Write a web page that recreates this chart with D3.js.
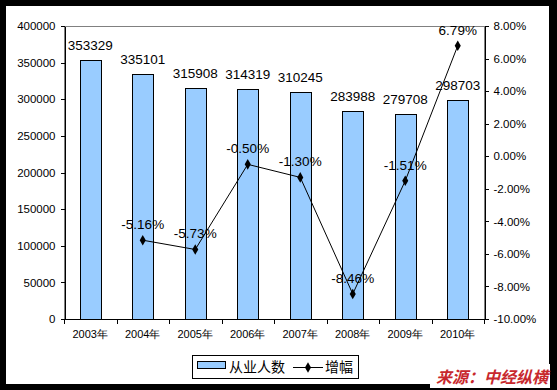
<!DOCTYPE html>
<html>
<head>
<meta charset="utf-8">
<script src="https://cdn.jsdelivr.net/npm/d3@7"></script>
<style>
    body { margin: 0; background: #000; }
    text { font-family: "Liberation Sans", Arial, sans-serif; fill: #000; }
    .cn { font-family: "Noto Sans CJK SC", sans-serif; }
    .axis path, .axis line { stroke: #000; shape-rendering: crispEdges; }
</style>
</head>
<body>
<div id="chart"></div>
<script>
(function () {
    "use strict";

    var years = ["2003年", "2004年", "2005年", "2006年", "2007年", "2008年", "2009年", "2010年"],
        workers = [353329, 335101, 315908, 314319, 310245, 283988, 279708, 298703],
        growth = [null, -5.16, -5.73, -0.50, -1.30, -8.46, -1.51, 6.79],
        leftTicks = [0, 50000, 100000, 150000, 200000, 250000, 300000, 350000, 400000],
        rightTicks = [-10, -8, -6, -4, -2, 0, 2, 4, 6, 8],

        W = 557, H = 390,
        plot = {left: 64, right: 484, top: 26, bottom: 319},

        svg = d3.select("#chart").append("svg")
            .attr("width", W)
            .attr("height", H),

        x = d3.scaleBand()
            .domain(years)
            .range([plot.left, plot.right]),

        y = d3.scaleLinear()
            .domain([0, 400000])
            .range([plot.bottom, plot.top]),

        y2 = d3.scaleLinear()
            .domain([-10, 8])
            .range([plot.bottom, plot.top]),

        cx = function (i) { return x(years[i]) + x.bandwidth() / 2; },

        pts = growth.map(function (g, i) { return {i: i, g: g}; })
            .filter(function (d) { return d.g !== null; }),

        line = d3.line()
            .x(function (d) { return cx(d.i); })
            .y(function (d) { return y2(d.g); }),

        diamond = d3.symbol().type(d3.symbolDiamond).size(32);

    // cadre noir + fond blanc
    svg.append("rect").attr("width", W).attr("height", H).attr("fill", "#000");
    svg.append("rect").attr("x", 6).attr("y", 6).attr("width", 543).attr("height", 378).attr("fill", "#fff");

    svg.append("rect")
        .attr("x", plot.left + 0.5).attr("y", plot.top + 0.5)
        .attr("width", plot.right - plot.left).attr("height", plot.bottom - plot.top)
        .attr("fill", "none").attr("stroke", "#808080");

    // barres
    svg.append("g").selectAll("rect")
        .data(workers)
        .enter().append("rect")
        .attr("x", function (d, i) { return Math.round(x(years[i]) + x.bandwidth() * 0.3) + 0.5; })
        .attr("y", function (d) { return Math.round(y(d)) + 0.5; })
        .attr("width", Math.round(x.bandwidth() * 0.4))
        .attr("height", function (d) { return plot.bottom - Math.round(y(d)); })
        .attr("fill", "#99CCFF")
        .attr("stroke", "#000");

    svg.append("g").selectAll("text")
        .data(workers)
        .enter().append("text")
        .attr("x", function (d, i) { return cx(i); })
        .attr("y", function (d) { return y(d) - 10; })
        .attr("text-anchor", "middle")
        .style("font-size", "13.5px")
        .text(function (d) { return d; });

    // axes
    svg.append("g")
        .attr("class", "axis")
        .attr("transform", "translate(" + (plot.left + 0.5) + ",0)")
        .call(d3.axisLeft(y).tickValues(leftTicks).tickSize(4).tickSizeOuter(0).tickPadding(5)
            .tickFormat(d3.format("d")))
        .selectAll("text").style("font-size", "11.5px").attr("fill", "#000");

    svg.append("g")
        .attr("class", "axis")
        .attr("transform", "translate(" + (plot.right + 0.5) + ",0)")
        .call(d3.axisRight(y2).tickValues(rightTicks).tickSize(4).tickSizeOuter(0).tickPadding(5)
            .tickFormat(function (d) { return d.toFixed(2) + "%"; }))
        .selectAll("text").style("font-size", "11.5px").attr("fill", "#000");

    var xa = svg.append("g")
        .attr("class", "axis")
        .attr("transform", "translate(0," + (plot.bottom + 0.5) + ")");
    xa.append("line")
        .attr("x1", plot.left).attr("x2", plot.right + 1);
    xa.selectAll(".tk")
        .data(years.concat([null]))
        .enter().append("line")
        .attr("class", "tk")
        .attr("x1", function (d) { return Math.round(d ? x(d) : plot.right) + 0.5; })
        .attr("x2", function (d) { return Math.round(d ? x(d) : plot.right) + 0.5; })
        .attr("y1", 0).attr("y2", 4);
    xa.selectAll("text")
        .data(years)
        .enter().append("text")
        .attr("x", function (d, i) { return cx(i); })
        .attr("y", 18)
        .attr("text-anchor", "middle")
        .style("font-size", "11px")
        .text(function (d) { return d; });

    // courbe
    svg.append("path")
        .datum(pts)
        .attr("d", line)
        .attr("fill", "none")
        .attr("stroke", "#000")
        .attr("stroke-width", 1);
    svg.append("g").selectAll("path")
        .data(pts)
        .enter().append("path")
        .attr("d", diamond)
        .attr("transform", function (d) { return "translate(" + cx(d.i) + "," + y2(d.g) + ")"; })
        .attr("fill", "#000");
    svg.append("g").selectAll("text")
        .data(pts)
        .enter().append("text")
        .attr("x", function (d) { return cx(d.i); })
        .attr("y", function (d) { return y2(d.g) - 11; })
        .attr("text-anchor", "middle")
        .style("font-size", "13.5px")
        .text(function (d) { return d.g.toFixed(2) + "%"; });

    // légende
    var lg = svg.append("g");
    lg.append("rect")
        .attr("x", 192.5).attr("y", 355.5).attr("width", 166).attr("height", 23)
        .attr("fill", "#fff").attr("stroke", "#000");
    lg.append("rect")
        .attr("x", 197.5).attr("y", 361.5).attr("width", 28).attr("height", 7)
        .attr("fill", "#99CCFF").attr("stroke", "#000");
    lg.append("text").attr("class", "cn")
        .attr("x", 229).attr("y", 372).style("font-size", "14px").text("从业人数");
    lg.append("line")
        .attr("x1", 293).attr("x2", 323).attr("y1", 367.5).attr("y2", 367.5)
        .attr("stroke", "#000");
    lg.append("path")
        .attr("d", diamond)
        .attr("transform", "translate(308,367.5)");
    lg.append("text").attr("class", "cn")
        .attr("x", 325).attr("y", 372).style("font-size", "14px").text("增幅");

    // source
    svg.append("rect")
        .attr("x", 430).attr("y", 364).attr("width", 120).attr("height", 24)
        .attr("fill", "#fff");
    svg.append("text").attr("class", "cn")
        .attr("x", 548).attr("y", 383)
        .attr("text-anchor", "end")
        .style("font-size", "16px").style("font-weight", "bold").style("font-style", "italic")
        .style("fill", "#C8282D")
        .text("来源：中经纵横");
}());
</script>
</body>
</html>
